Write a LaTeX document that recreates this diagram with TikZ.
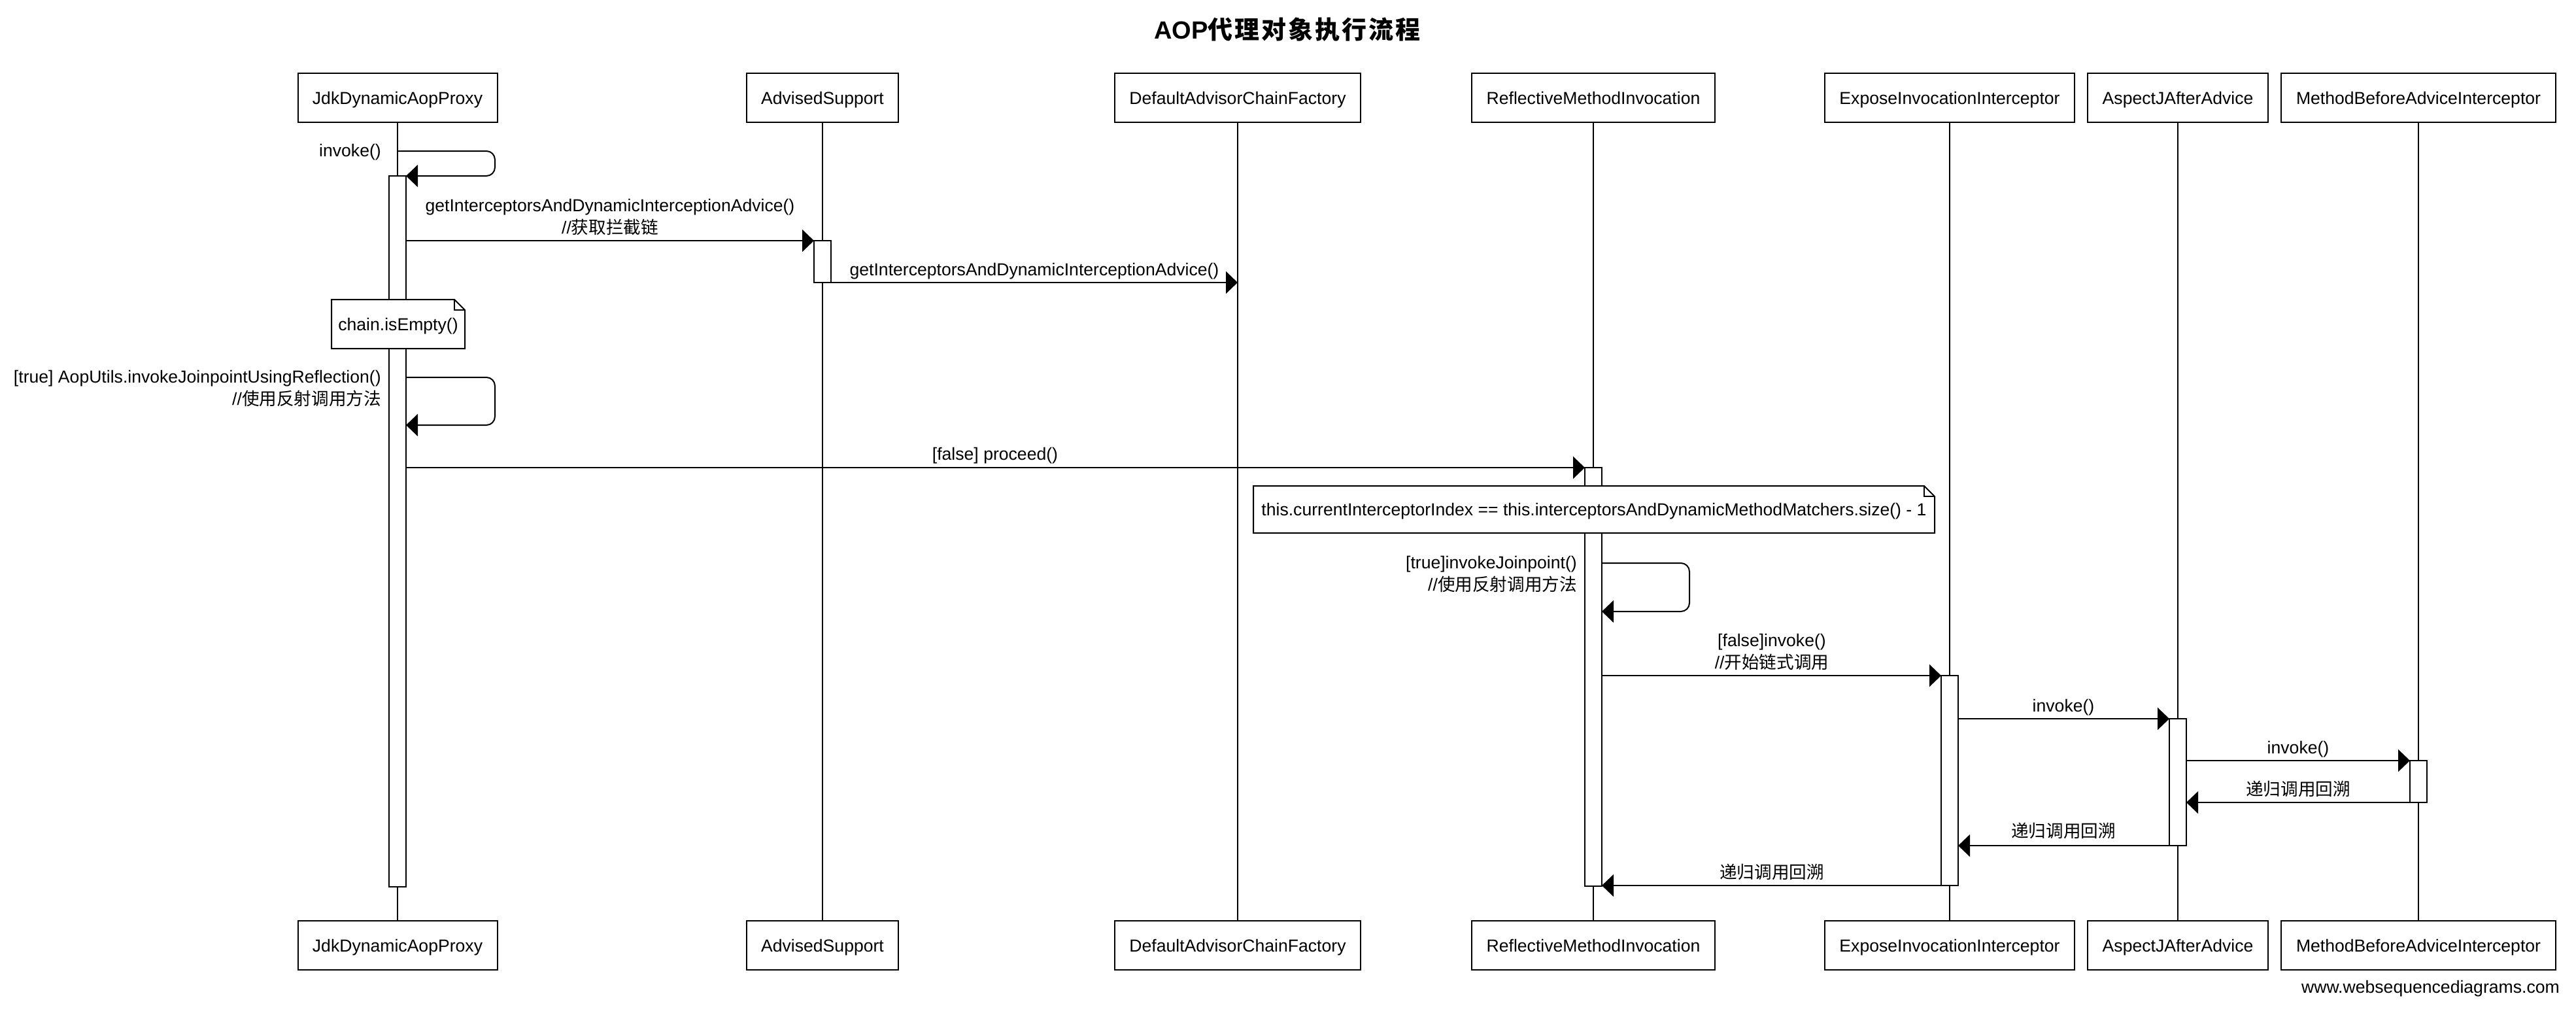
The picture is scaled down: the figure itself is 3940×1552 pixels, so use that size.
\documentclass[tikz,border=0pt]{standalone}
\usepackage{fontspec}
\setmainfont{Liberation Sans}
\newfontfamily\cjk{Noto Sans CJK SC}
\usetikzlibrary{arrows.meta}
\begin{document}
\begin{tikzpicture}[x=1pt,y=-1pt,
  txt/.style={font=\fontsize{26.6}{32}\selectfont, inner sep=0pt},
  lbl/.style={txt, anchor=base},
  lblr/.style={txt, anchor=base east},
  actor/.style={txt, draw, line width=2pt, fill=white, minimum height=75pt, text height=19pt, text depth=0pt, outer sep=0pt},
  life/.style={line width=1.7pt},
  bar/.style={draw, fill=white, line width=2pt, minimum width=26pt, inner sep=0pt, outer sep=0pt},
  msg/.style={line width=2pt, -{Triangle[length=18pt,width=34pt]}},
  selfmsg/.style={msg, rounded corners=13pt},
  notebox/.style={txt, fill=white, text height=19pt, text depth=0pt, outer sep=0pt},
  noteline/.style={line width=2pt, line join=miter}
]
\fill[white] (0,0) rectangle (3940,1552);
\useasboundingbox (0,0) rectangle (3940,1552);

% title
\node[anchor=base, inner sep=0pt, font=\fontsize{38}{44}\selectfont\bfseries] (title) at (1969,60)
  {AOP{\cjk\addfontfeature{LetterSpace=8}代理对象执行流程}};

% participants (top)
\node[actor, minimum width=305pt] (tJdk) at (608,149.5) {JdkDynamicAopProxy};
\node[actor, minimum width=232pt] (tAdv) at (1258,149.5) {AdvisedSupport};
\node[actor, minimum width=376pt] (tDef) at (1893,149.5) {DefaultAdvisorChainFactory};
\node[actor, minimum width=372pt] (tRef) at (2437,149.5) {ReflectiveMethodInvocation};
\node[actor, minimum width=382pt] (tExp) at (2982,149.5) {ExposeInvocationInterceptor};
\node[actor, minimum width=276pt] (tAsp) at (3331,149.5) {AspectJAfterAdvice};
\node[actor, minimum width=420pt] (tMet) at (3699,149.5) {MethodBeforeAdviceInterceptor};
% participants (bottom)
\node[actor, minimum width=305pt] (bJdk) at (608,1445.5) {JdkDynamicAopProxy};
\node[actor, minimum width=232pt] (bAdv) at (1258,1445.5) {AdvisedSupport};
\node[actor, minimum width=376pt] (bDef) at (1893,1445.5) {DefaultAdvisorChainFactory};
\node[actor, minimum width=372pt] (bRef) at (2437,1445.5) {ReflectiveMethodInvocation};
\node[actor, minimum width=382pt] (bExp) at (2982,1445.5) {ExposeInvocationInterceptor};
\node[actor, minimum width=276pt] (bAsp) at (3331,1445.5) {AspectJAfterAdvice};
\node[actor, minimum width=420pt] (bMet) at (3699,1445.5) {MethodBeforeAdviceInterceptor};

% lifelines
\foreach \p in {Jdk,Adv,Def,Ref,Exp,Asp,Met}
  \draw[life] (t\p.south) -- (b\p.north);

% activation bars
\node[bar, minimum height=1087pt] (barJdk) at (608,812.5) {};
\node[bar, minimum height=64pt] (barAdv) at (1258,400) {};
\node[bar, minimum height=640pt] (barRef) at (2437,1035) {};
\node[bar, minimum height=321pt] (barExp) at (2982,1193.5) {};
\node[bar, minimum height=194pt] (barAsp) at (3331,1196) {};
\node[bar, minimum height=64pt] (barMet) at (3699,1195) {};

% notes
\node[notebox, minimum width=204pt, minimum height=75pt] (note1) at (609,495.5) {chain.isEmpty()};
\draw[noteline] (note1.north west) -- ([xshift=-16pt]note1.north east) -- ([yshift=-16pt]note1.north east)
  -- (note1.south east) -- (note1.south west) -- cycle;
\draw[noteline] ([xshift=-16pt]note1.north east) -- ([xshift=-16pt,yshift=-16pt]note1.north east) -- ([yshift=-16pt]note1.north east);

\node[notebox, minimum width=1042pt, minimum height=72pt] (note2) at (2438,779)
  {this.currentInterceptorIndex == this.interceptorsAndDynamicMethodMatchers.size() - 1};
\draw[noteline] (note2.north west) -- ([xshift=-16pt]note2.north east) -- ([yshift=-16pt]note2.north east)
  -- (note2.south east) -- (note2.south west) -- cycle;
\draw[noteline] ([xshift=-16pt]note2.north east) -- ([xshift=-16pt,yshift=-16pt]note2.north east) -- ([yshift=-16pt]note2.north east);

% messages
\draw[selfmsg] (tJdk.south |- 0,231) -- (757,231) -- (757,269) -- (barJdk.north east);
\node[lblr] (l1) at (583,239) {invoke()};

\draw[msg] (barJdk.east |- 0,368) -- (barAdv.north west);
\node[lbl] (l2a) at (933,323) {getInterceptorsAndDynamicInterceptionAdvice()};
\node[lbl] (l2b) at (933,357) {//{\cjk 获取拦截链}};

\draw[msg] (barAdv.south east) -- (tDef.south |- barAdv.south);
\node[lbl] (l3) at (1582,421) {getInterceptorsAndDynamicInterceptionAdvice()};

\draw[selfmsg] (barJdk.east |- 0,577) -- (757,577) -- (757,650) -- (barJdk.east |- 0,650);
\node[lblr] (l5a) at (583,585) {[true] AopUtils.invokeJoinpointUsingReflection()};
\node[lblr] (l5b) at (583,619) {//{\cjk 使用反射调用方法}};

\draw[msg] (barJdk.east |- barRef.north) -- (barRef.north west);
\node[lbl] (l6) at (1522,703) {[false] proceed()};

\draw[selfmsg] (barRef.east |- 0,861) -- (2584,861) -- (2584,935) -- (barRef.east |- 0,935);
\node[lblr] (l8a) at (2412,869) {[true]invokeJoinpoint()};
\node[lblr] (l8b) at (2412,903) {//{\cjk 使用反射调用方法}};

\draw[msg] (barRef.east |- barExp.north) -- (barExp.north west);
\node[lbl] (l9a) at (2710,988) {[false]invoke()};
\node[lbl] (l9b) at (2710,1022) {//{\cjk 开始链式调用}};

\draw[msg] (barExp.east |- barAsp.north) -- (barAsp.north west);
\node[lbl] (l10) at (3156,1088) {invoke()};

\draw[msg] (barAsp.east |- barMet.north) -- (barMet.north west);
\node[lbl] (l11) at (3515,1152) {invoke()};

\draw[msg] (barMet.south west) -- (barAsp.east |- barMet.south);
\node[lbl] (l12) at (3515,1216) {{\cjk 递归调用回溯}};

\draw[msg] (barAsp.south west) -- (barExp.east |- barAsp.south);
\node[lbl] (l13) at (3156,1280) {{\cjk 递归调用回溯}};

\draw[msg] (barExp.south west) -- (barRef.east |- barExp.south);
\node[lbl] (l14) at (2710,1343) {{\cjk 递归调用回溯}};

% footer
\node[lblr] (footer) at (3915,1518) {www.websequencediagrams.com};
\end{tikzpicture}
\end{document}
